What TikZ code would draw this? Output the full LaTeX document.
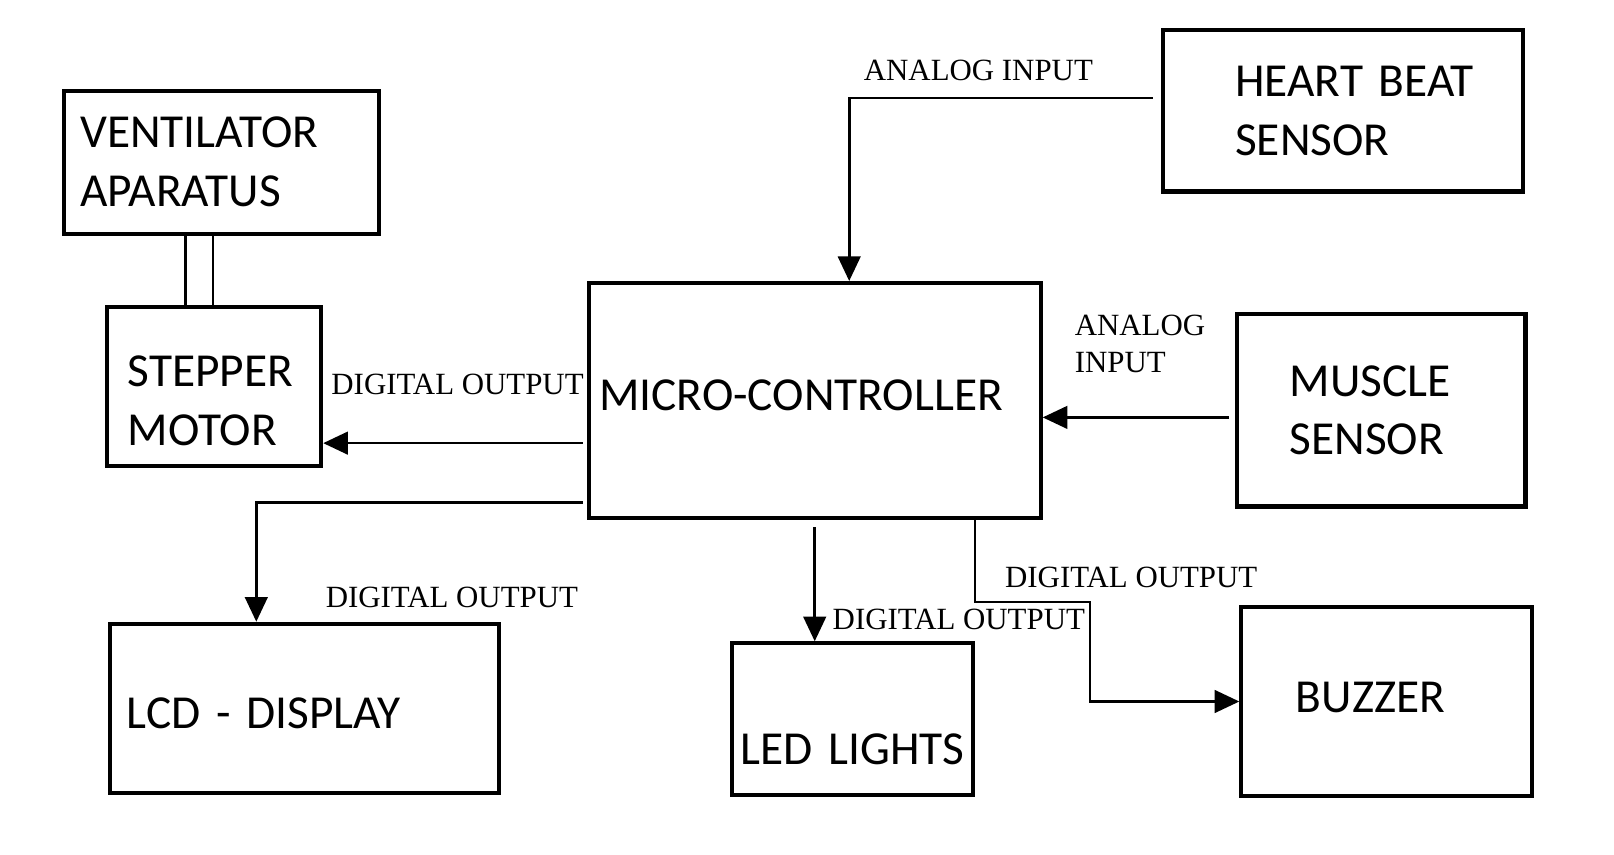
\documentclass[tikz,border=0pt]{standalone}
\usepackage{fontspec}
\usepackage{tikz}
\usetikzlibrary{arrows.meta, positioning, calc}
\newfontfamily\blockfamily{Carlito}
\newfontfamily\signalfamily{Liberation Serif}
\newcommand{\blockfont}{\blockfamily\fontsize{46}{57}\selectfont\spaceskip=0.17em}
\newcommand{\signalfont}{\signalfamily\fontsize{30}{36}\selectfont}
\newcommand{\padtop}[1]{\rule{0pt}{#1}}
\newcommand{\padbot}[1]{\rule[-#1]{0pt}{#1}}

\begin{document}
\begin{tikzpicture}[
    x=1pt, y=-1pt,
    block/.style={rectangle, draw, line width=4pt, inner xsep=0pt, inner ysep=0pt, align=left, font=\blockfont},
    signal/.style={font=\signalfont, inner sep=0pt},
    connection/.style={-{Triangle[length=24pt, width=22pt]}, line width=2.5pt},
    link/.style={line width=2.5pt},
]
    \useasboundingbox[fill=white] (0,0) rectangle (1568,830);

    % Blocks
    \node[block, minimum width=306pt, minimum height=139pt, text width=274pt] (vent) at (215,157.5) {VENTILATOR\\APARATUS};
    \node[block, minimum width=208pt, minimum height=155pt, text width=168pt] (stepper) at (208,375.5) {\padtop{58pt}STEPPER\\MOTOR};
    \node[block, minimum width=439pt, minimum height=228pt, text width=419pt] (mc) at (791.5,389) {MICRO-CONTROLLER\padbot{11pt}};
    \node[block, minimum width=350pt, minimum height=157pt, text width=266pt] (hb) at (1305,107.5) {\hspace*{28pt}HEART BEAT\\\hspace*{28pt}SENSOR};
    \node[block, minimum width=280pt, minimum height=187pt, text width=178pt] (muscle) at (1342,398.5) {MUSCLE\\SENSOR};
    \node[block, minimum width=378pt, minimum height=164pt, text width=346pt] (lcd) at (296,688) {\padtop{40pt}LCD - DISPLAY};
    \node[block, minimum width=234pt, minimum height=147pt, text width=224pt, align=center] (led) at (828,698.5) {\padtop{88pt}LED LIGHTS};
    \node[block, minimum width=282pt, minimum height=183pt, text width=176pt] (buzzer) at (1347,681.5) {BUZZER\padbot{8pt}};

    % Ventilator shaft
    \coordinate (shaftl) at ([xshift=-28pt]stepper.north);
    \coordinate (shaftr) at ([xshift=-1pt]stepper.north);
    \draw[link] (shaftl) -- (shaftl |- vent.south);
    \draw[link] (shaftr) -- (shaftr |- vent.south);

    % Sensor inputs
    \coordinate (hbout) at ([yshift=12.5pt]hb.west);
    \draw[connection, shorten <=8pt] (hbout) -| ([xshift=33.5pt]mc.north);
    \coordinate (msout) at ([yshift=-7pt]muscle.west);
    \draw[connection, shorten <=6pt] (msout) -- (msout -| mc.east);

    % Outputs
    \coordinate (stin) at ([yshift=-55pt]stepper.east);
    \draw[connection, shorten <=4pt] (stin -| mc.west) -- (stin);
    \coordinate (lcdout) at ([yshift=-99pt]mc.west);
    \draw[connection, shorten <=4pt] (lcdout) -| ([xshift=-47pt]lcd.north);
    \draw[connection, shorten <=7pt] (mc.south) -- (mc.south |- led.north);
    \coordinate (bzbend) at (1059,585);
    \draw[connection] ([xshift=155.5pt]mc.south) |- (bzbend) |- (buzzer.west);

    % Signal labels
    \node[signal] (hblbl) at (950.5,68.5) {ANALOG INPUT};
    \node[signal, anchor=west, align=left] (mslbl) at (1044,334) {ANALOG\\INPUT};
    \node[signal] (stlbl) at (444.5,373.5) {DIGITAL OUTPUT};
    \node[signal] (lcdlbl) at (439,580.5) {DIGITAL OUTPUT};
    \node[signal] (ledlbl) at (931.5,601.5) {DIGITAL OUTPUT};
    \node[signal] (bzlbl) at (1099,560.5) {DIGITAL OUTPUT};
\end{tikzpicture}
\end{document}
